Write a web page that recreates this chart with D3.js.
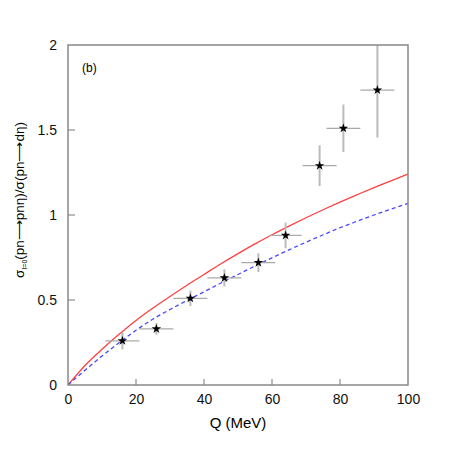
<!DOCTYPE html>
<head>
    <meta charset="utf-8">
    <title>sigma ratio</title>
    <script type="text/javascript" src="https://d3js.org/d3.v7.min.js"></script>
    <style>
        body { margin: 0; background: #fff; }
        text { font-family: "Liberation Sans", Arial, sans-serif; }
    </style>
</head>
<body>
<div id="container"></div>
<script>
    //-----------------------------DATA------------------------------//
    // experimental points: Q (MeV), ratio, errors
    const qVals   = [16, 26, 36, 46, 56, 64, 74, 81, 91];
    const ratio   = [0.26, 0.33, 0.51, 0.63, 0.72, 0.88, 1.29, 1.51, 1.735];
    const qErr    = [5, 5, 5, 5, 5, 4.7, 5, 5, 5];
    const yErr    = [0.05, 0.035, 0.045, 0.05, 0.055, 0.075, 0.12, 0.14, 0.28];

    // theory curves
    const curveQ    = [0, 5, 10, 15, 20, 25, 30, 35, 40, 45, 50, 55, 60, 65, 70, 75, 80, 85, 90, 95, 100];
    const redCurve  = [0, 0.115, 0.21, 0.298, 0.38, 0.453, 0.521, 0.587, 0.65, 0.713, 0.773, 0.83, 0.884, 0.935, 0.984, 1.031, 1.076, 1.119, 1.161, 1.201, 1.241];
    const blueCurve = [0, 0.087, 0.17, 0.248, 0.322, 0.388, 0.444, 0.497, 0.548, 0.6, 0.65, 0.7, 0.748, 0.795, 0.84, 0.883, 0.925, 0.963, 1.0, 1.035, 1.068];

    const xTicks = [0, 20, 40, 60, 80, 100];
    const yTicks = [0, 0.5, 1, 1.5, 2];

    //-----------------------------SVG-------------------------------//
    const width = 454, height = 454;
    const margin = {top: 45, right: 46, bottom: 69, left: 68};

    const svg = d3.select("div#container").append("svg")
        .attr("width", width)
        .attr("height", height);

    const xScale = d3.scaleLinear().domain([0, 100]).range([margin.left, width - margin.right]);
    const yScale = d3.scaleLinear().domain([0, 2]).range([height - margin.bottom, margin.top]);

    svg.append("defs").append("clipPath").attr("id", "clip")
        .append("rect")
        .attr("x", margin.left).attr("y", margin.top)
        .attr("width", xScale(100) - xScale(0))
        .attr("height", yScale(0) - yScale(2));

    //-----------------------------AXES------------------------------//
    const xaxis = d3.axisBottom(xScale).tickValues(xTicks).tickSize(0).tickPadding(9);
    const yaxis = d3.axisLeft(yScale).tickValues(yTicks).tickSize(0).tickPadding(11)
        .tickFormat(d3.format("~g"));

    const gx = svg.append("g")
        .attr("transform", `translate(0, ${yScale(0)})`)
        .call(xaxis);
    const gy = svg.append("g")
        .attr("transform", `translate(${margin.left}, 0)`)
        .call(yaxis);
    [gx, gy].forEach(g => {
        g.select(".domain").remove();
        g.selectAll("text").attr("font-size", 14).attr("fill", "#111")
            .style("font-family", "'Liberation Sans', Arial, sans-serif");
    });

    // inner ticks
    svg.append("g").selectAll("line")
        .data(xTicks.slice(1, -1))
        .enter().append("line")
        .attr("x1", d => xScale(d)).attr("x2", d => xScale(d))
        .attr("y1", yScale(0)).attr("y2", yScale(0) - 6)
        .attr("stroke", "#bbb").attr("stroke-width", 2);
    svg.append("g").selectAll("line")
        .data(yTicks.slice(1, -1))
        .enter().append("line")
        .attr("x1", margin.left).attr("x2", margin.left + 7)
        .attr("y1", d => yScale(d)).attr("y2", d => yScale(d))
        .attr("stroke", "#bbb").attr("stroke-width", 2);

    //----------------------------LINES------------------------------//
    const plot = svg.append("g").attr("clip-path", "url(#clip)");

    const line = d3.line()
        .x((d, i) => xScale(curveQ[i]))
        .y(d => yScale(d))
        .curve(d3.curveMonotoneX);

    plot.append("path")
        .attr("d", line(redCurve))
        .attr("fill", "none")
        .attr("stroke", "#ff4040")
        .attr("stroke-width", 1.3);

    plot.append("path")
        .attr("d", line(blueCurve))
        .attr("fill", "none")
        .attr("stroke", "#4848ff")
        .attr("stroke-width", 1.3)
        .attr("stroke-dasharray", "4,3");

    //--------------------------ERROR BARS---------------------------//
    const pts = qVals.map((q, i) => ({q: q, y: ratio[i], dq: qErr[i], dy: yErr[i]}));

    plot.selectAll(".vbar")
        .data(pts).enter().append("line")
        .attr("class", "vbar")
        .attr("x1", d => xScale(d.q)).attr("x2", d => xScale(d.q))
        .attr("y1", d => yScale(d.y - d.dy)).attr("y2", d => yScale(d.y + d.dy))
        .attr("stroke", "#bbb").attr("stroke-width", 2);

    plot.selectAll(".hbar")
        .data(pts).enter().append("line")
        .attr("class", "hbar")
        .attr("x1", d => xScale(d.q - d.dq)).attr("x2", d => xScale(d.q + d.dq))
        .attr("y1", d => yScale(d.y)).attr("y2", d => yScale(d.y))
        .attr("stroke", "#aaa").attr("stroke-width", 1.3);

    plot.selectAll(".star")
        .data(pts).enter().append("path")
        .attr("class", "star")
        .attr("transform", d => `translate(${xScale(d.q)},${yScale(d.y)})`)
        .attr("d", d3.symbol().type(d3.symbolStar).size(28))
        .attr("fill", "#000");

    //-----------------------------FRAME-----------------------------//
    svg.append("rect")
        .attr("x", margin.left).attr("y", margin.top)
        .attr("width", xScale(100) - xScale(0))
        .attr("height", yScale(0) - yScale(2))
        .attr("fill", "none")
        .attr("stroke", "#888")
        .attr("stroke-width", 1.5);

    //-----------------------------TEXT------------------------------//
    svg.append("text")
        .attr("x", 82).attr("y", 72)
        .attr("font-size", 12)
        .text("(b)");

    svg.append("text")
        .attr("x", xScale(50)).attr("y", 428)
        .attr("text-anchor", "middle")
        .attr("font-size", 15)
        .text("Q (MeV)");

    const ytitle = svg.append("text")
        .attr("transform", "translate(24, 200) rotate(-90)")
        .attr("text-anchor", "middle")
        .attr("font-size", 13.5);
    ytitle.append("tspan").text("σ");
    ytitle.append("tspan").attr("font-size", 7).attr("dy", 3).text("I=0");
    ytitle.append("tspan").attr("dy", -3).text("(pn⟶pnη)/σ(pn⟶dη)");
</script>
</body>
